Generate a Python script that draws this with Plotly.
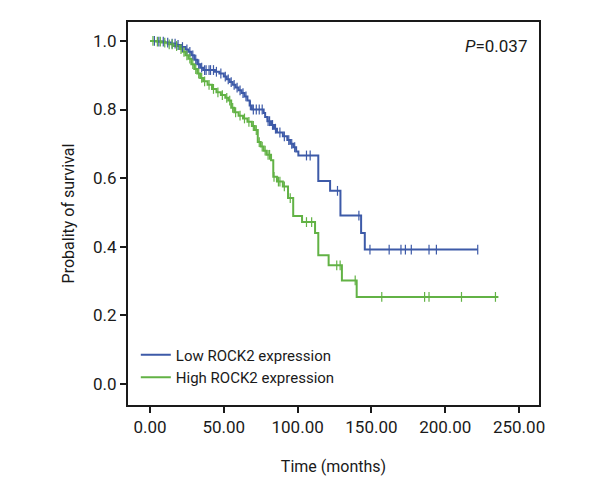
import numpy as np
import plotly.graph_objects as go

# ---- data ----
low_times = [0, 5, 10, 14, 18, 21, 24, 26, 28, 30, 32, 34, 36, 44, 47, 50, 52, 54, 56, 58, 60, 62, 64, 66,
             67.5, 69, 77, 78, 79.5, 82, 84, 86, 90, 93, 95, 97, 99, 100.5, 114, 122, 129, 143, 145.5]
low_surv = [1.0, 0.998, 0.995, 0.992, 0.988, 0.982, 0.975, 0.968, 0.958, 0.945, 0.932, 0.922, 0.915, 0.910,
            0.905, 0.896, 0.888, 0.880, 0.872, 0.864, 0.856, 0.848, 0.838, 0.826, 0.812, 0.800, 0.790, 0.778,
            0.766, 0.755, 0.744, 0.733, 0.722, 0.711, 0.700, 0.690, 0.678, 0.666, 0.592, 0.563, 0.491, 0.440, 0.392]
low_end = 222
low_censor = [3, 6, 9, 12, 15, 17, 19, 22, 25, 27, 29, 31, 33, 35, 37, 38, 40, 41, 43, 45, 48, 51, 53, 55, 57,
              59, 61, 63, 65, 68, 70, 72, 74, 76, 80, 81, 83, 85, 88, 91, 94, 96, 98, 106, 108.5, 127, 141.5,
              149, 162, 170, 173, 177, 189, 194, 222]

high_times = [0, 4, 8, 12, 16, 20, 22, 24, 26, 28, 30, 32, 34, 36, 39, 42, 45, 48, 51, 53, 55, 57, 60, 63, 66,
              69, 71, 73, 75, 77, 79, 82, 83.5, 86, 90, 93.5, 97, 103, 111.8, 114, 121, 130, 140]
high_surv = [1.0, 0.998, 0.995, 0.990, 0.985, 0.976, 0.968, 0.958, 0.948, 0.932, 0.918, 0.905, 0.892, 0.882,
             0.872, 0.860, 0.850, 0.842, 0.834, 0.826, 0.805, 0.792, 0.782, 0.774, 0.764, 0.752, 0.740, 0.705,
             0.692, 0.680, 0.668, 0.652, 0.604, 0.590, 0.576, 0.542, 0.490, 0.472, 0.440, 0.375, 0.346, 0.302,
             0.254]
high_end = 236
high_censor = [2, 5, 7, 10, 13, 15, 18, 21, 23, 25, 27, 29, 31, 33, 35, 37, 40, 43, 46, 49, 52, 54, 56, 58,
               61, 64, 67, 70, 72, 74, 76, 78, 80, 81, 84, 87, 88, 91, 95, 106, 109.5, 126.5, 128.8, 139,
               157, 186, 189, 211, 234]

x_ticks = [0, 50, 100, 150, 200, 250]
y_ticks = [0.0, 0.2, 0.4, 0.6, 0.8, 1.0]

names = ["Low ROCK2 expression", "High ROCK2 expression"]
colors = ["#3D5AA8", "#62B245"]

FONT = "Roboto, Liberation Sans Narrow, sans-serif"
INK = "#1a1a1a"


def step_value(times, surv, t):
    idx = np.searchsorted(np.array(times), t, side="right") - 1
    return surv[max(idx, 0)]


fig = go.Figure()
series = [(low_times, low_surv, low_end, low_censor), (high_times, high_surv, high_end, high_censor)]
for (times, surv, end, cens), name, col in zip(series, names, colors):
    fig.add_trace(go.Scatter(
        x=list(times) + [end], y=list(surv) + [surv[-1]],
        mode="lines", line=dict(color=col, width=2, shape="hv"),
        name=name))
for (times, surv, end, cens), name, col in zip(series, names, colors):
    fig.add_trace(go.Scatter(
        x=cens, y=[step_value(times, surv, c) for c in cens],
        mode="markers", showlegend=False,
        marker=dict(symbol="line-ns", size=7, line=dict(color=col, width=1.2))))

# page body has an 8px margin: figure sized so it fits the 600x500 window
fig.update_layout(
    width=584, height=484,
    margin=dict(l=120, r=53, t=12, b=87),
    paper_bgcolor="white", plot_bgcolor="white",
    font=dict(family=FONT, size=16, color=INK),
    showlegend=True,
    legend=dict(x=0.019, y=0.03, xanchor="left", yanchor="bottom",
                bgcolor="rgba(0,0,0,0)", font=dict(size=15, family=FONT, color=INK),
                itemwidth=30, tracegroupgap=0),
    xaxis=dict(range=[-14.9, 263.5], tickvals=x_ticks, tickformat=".2f",
               showgrid=False, zeroline=False, showline=True, linecolor=INK,
               linewidth=2, mirror=True, ticks="outside", ticklen=6, tickcolor=INK, tickwidth=1.5,
               title=dict(text="Time (months)", standoff=24, font=dict(size=16)),
               tickfont=dict(size=17)),
    yaxis=dict(range=[-0.061, 1.055], tickvals=y_ticks, tickformat=".1f",
               showgrid=False, zeroline=False, showline=True, linecolor=INK,
               linewidth=2, mirror=True, ticks="outside", ticklen=6, tickcolor=INK, tickwidth=1.5,
               title=dict(text="Probality of survival", standoff=14, font=dict(size=16)),
               tickfont=dict(size=17)),
)
fig.add_annotation(x=0.815, y=0.938, xref="paper", yref="paper", showarrow=False,
                   text="<i>P</i>=0.037", font=dict(size=17, family=FONT, color=INK),
                   xanchor="left", yanchor="middle")

fig.write_html("out.html")
